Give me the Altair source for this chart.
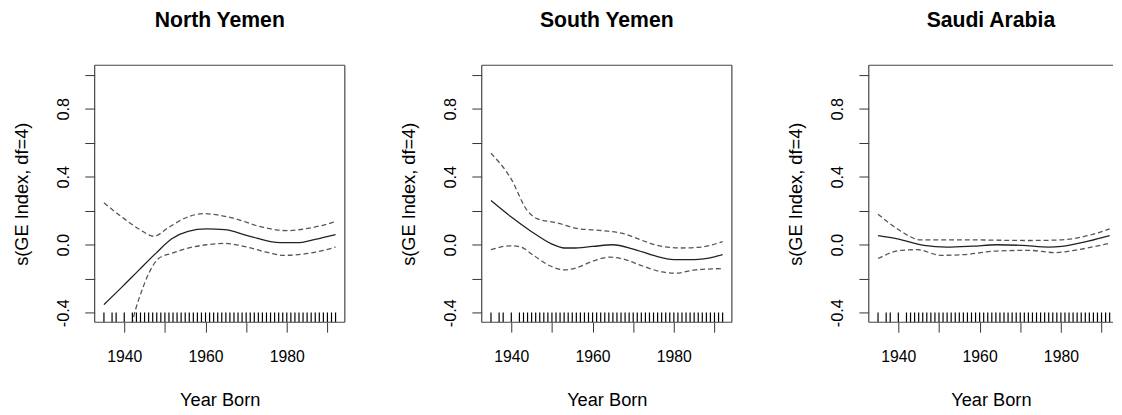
import altair as alt
import pandas as pd

# ---------------- data ----------------
PANELS = ["North Yemen", "South Yemen", "Saudi Arabia"]

NY_FIT_X = [1935.0, 1939.6, 1943.6, 1947.7, 1951.7, 1955.7, 1960.2, 1964.7, 1970.3, 1978.4, 1982.4, 1987.0, 1992.0]
NY_FIT_Y = [-0.352, -0.245, -0.149, -0.052, 0.035, 0.079, 0.093, 0.089, 0.054, 0.012, 0.012, 0.032, 0.060]
NY_UP_X = [1935.0, 1939.6, 1943.6, 1947.3, 1950.9, 1955.7, 1959.5, 1966.2, 1974.3, 1980.0, 1985.6, 1991.3, 1992.0]
NY_UP_Y = [0.247, 0.160, 0.093, 0.050, 0.102, 0.164, 0.183, 0.160, 0.102, 0.083, 0.098, 0.131, 0.136]
NY_LO_X = [1935.0, 1938.0, 1941.0, 1942.8, 1944.4, 1946.0, 1948.5, 1951.7, 1955.7, 1960.2, 1964.7, 1970.3, 1975.0, 1979.2, 1986.5, 1992.0]
NY_LO_Y = [-1.05, -0.80, -0.55, -0.38, -0.265, -0.17, -0.08, -0.05, -0.02, 0.0, 0.008, -0.014, -0.044, -0.062, -0.046, -0.014]

SY_FIT_X = [1935.0, 1940.0, 1945.0, 1950.0, 1953.0, 1955.0, 1960.0, 1965.0, 1970.0, 1975.0, 1980.0, 1985.0, 1990.0, 1992.0]
SY_FIT_Y = [0.260, 0.163, 0.077, 0.004, -0.019, -0.019, -0.010, 0.000, -0.025, -0.063, -0.087, -0.087, -0.071, -0.058]
SY_UP_X = [1935.0, 1939.8, 1943.9, 1946.3, 1951.2, 1956.1, 1962.5, 1967.4, 1972.3, 1977.1, 1982.0, 1986.9, 1992.0]
SY_UP_Y = [0.538, 0.394, 0.202, 0.154, 0.129, 0.096, 0.083, 0.067, 0.025, -0.010, -0.019, -0.013, 0.019]
SY_LO_X = [1935.0, 1939.8, 1942.3, 1945.5, 1949.6, 1953.2, 1956.1, 1960.1, 1964.2, 1967.4, 1972.3, 1977.1, 1980.4, 1985.3, 1992.0]
SY_LO_Y = [-0.029, -0.006, -0.013, -0.063, -0.125, -0.148, -0.135, -0.096, -0.073, -0.083, -0.125, -0.160, -0.167, -0.148, -0.140]

SA_FIT_X = [1935.0, 1939.8, 1946.3, 1951.9, 1958.4, 1964.1, 1970.5, 1977.0, 1980.2, 1986.7, 1992.0]
SA_FIT_Y = [0.054, 0.035, -0.004, -0.014, -0.008, 0.000, -0.004, -0.014, -0.010, 0.021, 0.054]
SA_UP_X = [1935.0, 1939.8, 1945.5, 1956.0, 1972.2, 1980.2, 1986.7, 1992.0]
SA_UP_Y = [0.180, 0.093, 0.029, 0.029, 0.025, 0.029, 0.054, 0.093]
SA_LO_X = [1935.0, 1940.6, 1944.7, 1950.4, 1956.0, 1964.1, 1972.2, 1978.6, 1984.2, 1992.0]
SA_LO_Y = [-0.081, -0.033, -0.029, -0.062, -0.058, -0.037, -0.033, -0.046, -0.029, 0.009]

RUG_YEARS = [1935, 1937, 1938, 1940] + list(range(1942, 1993))

X_TICKS = [1940, 1950, 1960, 1970, 1980, 1990]
Y_TICKS = [-0.4, -0.2, 0.0, 0.2, 0.4, 0.6, 0.8, 1.0]

X_MIN, X_MAX = 1932.72, 1994.28
Y_MIN, Y_MAX = -0.456, 1.056

FONT = "Liberation Sans"
W, H = 254, 261
W3 = 248
PX_PER_YEAR = W / (X_MAX - X_MIN)


def panel(title, fx, fy, ux, uy, lx, ly, width, xmax, right_border):
    xs = alt.Scale(domain=[X_MIN, xmax], nice=False, zero=False)
    ys = alt.Scale(domain=[Y_MIN, Y_MAX], nice=False, zero=False)
    x_axis = alt.Axis(
        values=X_TICKS, format="d",
        labelExpr="datum.value % 20 == 0 ? datum.label : ''",
        domain=False, grid=False, tickSize=10, tickColor="#333", tickWidth=1,
        labelFont=FONT, labelFontSize=16, labelColor="black",
        labelBaseline="middle", labelPadding=25, labelFlush=False, labelOverlap=False,
        title="Year Born", titleFont=FONT, titleFontSize=18.5, titleFontWeight="normal",
        titleColor="black", titleY=79, titleBaseline="middle",
    )
    y_axis = alt.Axis(
        values=Y_TICKS,
        labelExpr="round(datum.value*10) % 4 == 0 ? (datum.value < 0 ? '-' : '') + format(abs(datum.value), '.1f') : ''",
        domain=False, grid=False, tickSize=10, tickColor="#333", tickWidth=1,
        labelFont=FONT, labelFontSize=16.5, labelColor="black", labelAngle=270,
        labelAlign="center", labelBaseline="middle", labelPadding=22,
        labelFlush=False, labelOverlap=False,
        title="s(GE Index, df=4)", titleFont=FONT, titleFontSize=18.5, titleFontWeight="normal",
        titleColor="black", titleAngle=270, titleAlign="center", titleBaseline="middle",
        titleX=-74.5, titleY=H / 2,
    )
    x_enc = alt.X("year:Q", scale=xs, axis=x_axis)
    y_enc = alt.Y("value:Q", scale=ys, axis=y_axis)

    fit = alt.Chart(pd.DataFrame({"year": fx, "value": fy})).mark_line(
        color="#222", strokeWidth=1.3, interpolate="monotone", clip=True
    ).encode(x=x_enc, y=y_enc)
    up = alt.Chart(pd.DataFrame({"year": ux, "value": uy})).mark_line(
        color="#555", strokeWidth=1.3, strokeDash=[5, 3], interpolate="monotone", clip=True
    ).encode(x=x_enc, y=y_enc)
    lo = alt.Chart(pd.DataFrame({"year": lx, "value": ly})).mark_line(
        color="#555", strokeWidth=1.3, strokeDash=[5, 3], interpolate="monotone", clip=True
    ).encode(x=x_enc, y=y_enc)
    rug = alt.Chart(pd.DataFrame({"year": RUG_YEARS})).mark_rule(
        color="black", strokeWidth=1.2, clip=True
    ).encode(x=x_enc, y=alt.value(H), y2=alt.value(H - 10))

    one = alt.Data(values=[{}])
    border_style = dict(color="#444", strokeWidth=1.2)
    top = alt.Chart(one).mark_rule(**border_style).encode(
        x=alt.value(0), x2=alt.value(width), y=alt.value(0))
    bottom = alt.Chart(one).mark_rule(**border_style).encode(
        x=alt.value(0), x2=alt.value(width), y=alt.value(H))
    left = alt.Chart(one).mark_rule(**border_style).encode(
        x=alt.value(0), y=alt.value(0), y2=alt.value(H))
    layers = [fit, up, lo, rug, top, bottom, left]
    if right_border:
        layers.append(alt.Chart(one).mark_rule(**border_style).encode(
            x=alt.value(width), y=alt.value(0), y2=alt.value(H)))

    return alt.layer(*layers).properties(
        width=width, height=H,
        title=alt.TitleParams(
            title, font=FONT, fontSize=21.5, fontWeight="bold", color="black",
            anchor="middle", offset=17, baseline="alphabetic",
        ),
    )


p1 = panel(PANELS[0], NY_FIT_X, NY_FIT_Y, NY_UP_X, NY_UP_Y, NY_LO_X, NY_LO_Y, W, X_MAX, True)
p2 = panel(PANELS[1], SY_FIT_X, SY_FIT_Y, SY_UP_X, SY_UP_Y, SY_LO_X, SY_LO_Y, W, X_MAX, True)
p3 = panel(PANELS[2], SA_FIT_X, SA_FIT_Y, SA_UP_X, SA_UP_Y, SA_LO_X, SA_LO_Y, W3,
           X_MIN + W3 / PX_PER_YEAR, False)

chart = alt.hconcat(p1, p2, p3, spacing=139, bounds="flush").properties(
    padding={"left": 4, "top": -2, "right": 0, "bottom": 0},
    background="white",
).configure_view(stroke=None)

chart.save("out.html", embed_options={"renderer": "svg", "actions": False})
